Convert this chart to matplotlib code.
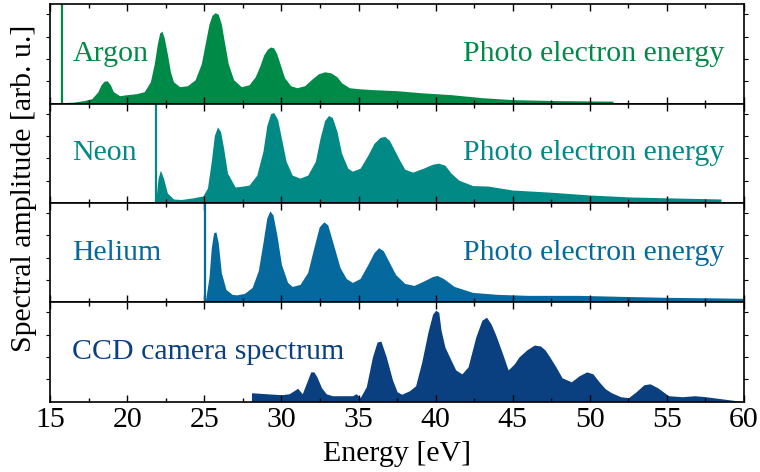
import numpy as np
import matplotlib
matplotlib.use("Agg")
import matplotlib.pyplot as plt
from matplotlib.ticker import MultipleLocator

plt.rcParams['font.family'] = ['Liberation Serif', 'DejaVu Serif']
plt.rcParams['font.size'] = 21.5

# ---- data (energy in eV, amplitude as panel fraction) ----
argon_e = [15.8, 16.5, 17.2, 17.7, 18.1, 18.3, 18.5, 18.7, 18.9, 19.1, 19.5, 20.0, 20.6, 21.1,
           21.5, 21.75, 21.95, 22.1, 22.25, 22.4, 22.6, 22.8, 23.0, 23.4, 23.9, 24.4, 24.8,
           25.05, 25.3, 25.5, 25.7, 25.9, 26.1, 26.3, 26.55, 26.9, 27.4, 27.9, 28.3, 28.6,
           28.85, 29.1, 29.3, 29.5, 29.7, 29.95, 30.2, 30.6, 31.0, 31.5, 32.0, 32.4, 32.8,
           33.2, 33.6, 33.9, 34.4, 35.0, 36.0, 37.5, 39.0, 41.0, 43.0, 45.0, 48.0, 51.5]
argon_a = [0.01, 0.015, 0.03, 0.05, 0.12, 0.19, 0.225, 0.23, 0.19, 0.12, 0.08, 0.09, 0.10, 0.12,
           0.22, 0.40, 0.60, 0.71, 0.73, 0.66, 0.50, 0.32, 0.22, 0.17, 0.18, 0.24, 0.40,
           0.60, 0.80, 0.89, 0.915, 0.90, 0.80, 0.62, 0.40, 0.24, 0.17, 0.19, 0.27, 0.38,
           0.49, 0.55, 0.57, 0.56, 0.50, 0.38, 0.26, 0.18, 0.16, 0.18, 0.25, 0.30, 0.32,
           0.31, 0.27, 0.21, 0.16, 0.15, 0.14, 0.13, 0.11, 0.09, 0.06, 0.04, 0.03, 0.025]

neon_e = [21.85, 22.0, 22.15, 22.35, 22.6, 23.0, 23.5, 24.2, 24.9, 25.2, 25.45, 25.65, 25.85,
          26.05, 26.25, 26.5, 27.0, 27.5, 27.9, 28.4, 28.8, 29.05, 29.3, 29.5, 29.75, 30.0,
          30.3, 30.7, 31.2, 31.7, 32.2, 32.5, 32.8, 33.05, 33.3, 33.6, 33.9, 34.3, 34.6,
          35.1, 35.6, 36.0, 36.4, 36.7, 37.0, 37.3, 37.7, 38.0, 38.5, 39.2, 39.8, 40.2,
          40.6, 41.0, 41.5, 42.4, 43.4, 45.0, 47.3, 50.0, 52.7, 55.5, 58.5]
neon_a = [0.02, 0.25, 0.33, 0.25, 0.10, 0.04, 0.035, 0.05, 0.07, 0.15, 0.42, 0.68, 0.765,
          0.72, 0.55, 0.30, 0.16, 0.17, 0.18, 0.28, 0.52, 0.78, 0.90, 0.91, 0.84, 0.65,
          0.42, 0.28, 0.25, 0.28, 0.42, 0.65, 0.83, 0.88, 0.86, 0.72, 0.50, 0.35, 0.32,
          0.35, 0.48, 0.60, 0.66, 0.67, 0.63, 0.54, 0.42, 0.34, 0.31, 0.35, 0.39, 0.40,
          0.38, 0.30, 0.23, 0.175, 0.17, 0.13, 0.11, 0.08, 0.06, 0.05, 0.04]

helium_e = [25.05, 25.3, 25.45, 25.6, 25.75, 25.9, 26.1, 26.4, 26.8, 27.1, 27.6, 28.1, 28.5,
            28.8, 29.05, 29.25, 29.45, 29.7, 30.0, 30.4, 30.7, 31.2, 31.7, 32.1, 32.45, 32.75,
            33.0, 33.3, 33.8, 34.2, 34.6, 35.1, 35.6, 36.0, 36.3, 36.6, 36.9, 37.4, 38.0,
            38.6, 39.3, 39.8, 40.1, 40.5, 41.2, 42.4, 44.0, 46.0, 49.3, 52.0, 55.0, 58.0, 60.0]
helium_a = [0.0, 0.25, 0.55, 0.70, 0.71, 0.60, 0.30, 0.13, 0.08, 0.075, 0.09, 0.15, 0.32,
            0.60, 0.85, 0.92, 0.88, 0.68, 0.38, 0.20, 0.16, 0.18, 0.30, 0.55, 0.76, 0.81,
            0.78, 0.62, 0.35, 0.24, 0.20, 0.24, 0.38, 0.50, 0.55, 0.52, 0.43, 0.28, 0.19,
            0.17, 0.22, 0.26, 0.27, 0.24, 0.16, 0.10, 0.08, 0.07, 0.07, 0.06, 0.05, 0.045, 0.04]

ccd_e = [28.05, 28.06, 29.0, 30.0, 30.5, 31.05, 31.35, 31.7, 31.9, 32.1, 32.3, 32.6, 32.9, 33.3,
         34.6, 34.85, 35.1, 35.5, 35.9, 36.2, 36.45, 36.8, 37.2, 37.5, 37.8, 38.3, 38.7, 39.1,
         39.5, 39.8, 40.0, 40.2, 40.35, 40.6, 40.9, 41.3, 41.7, 42.1, 42.6, 43.0, 43.3, 43.6,
         43.9, 44.3, 44.7, 45.1, 45.4, 45.9, 46.4, 46.8, 47.1, 47.4, 47.8, 48.2, 48.8, 49.3,
         49.8, 50.2, 50.6, 51.0, 51.4, 52.0, 52.5, 53.0, 53.5, 53.9, 54.4, 55.1, 56.0, 56.8,
         57.5, 58.5, 60.0]
ccd_a = [0.0, 0.09, 0.08, 0.07, 0.08, 0.135, 0.08, 0.22, 0.30, 0.30, 0.25, 0.14, 0.08, 0.06,
         0.06, 0.08, 0.04, 0.15, 0.45, 0.60, 0.61, 0.45, 0.22, 0.10, 0.075, 0.11, 0.16, 0.40,
         0.70, 0.88, 0.92, 0.90, 0.72, 0.55, 0.45, 0.32, 0.28, 0.35, 0.65, 0.82, 0.85, 0.78,
         0.67, 0.50, 0.32, 0.38, 0.45, 0.52, 0.57, 0.56, 0.52, 0.45, 0.35, 0.24, 0.20, 0.26,
         0.30, 0.28, 0.20, 0.13, 0.09, 0.05, 0.04, 0.10, 0.17, 0.18, 0.14, 0.06, 0.05, 0.06,
         0.05, 0.03, 0.0]

panels = [
    ("Argon", argon_e, argon_a, 15.8, "#008a47", True),
    ("Neon", neon_e, neon_a, 21.85, "#008985", True),
    ("Helium", helium_e, helium_a, 25.05, "#06699e", True),
    ("CCD camera spectrum", ccd_e, ccd_a, None, "#0b4080", False),
]

fig, axes = plt.subplots(4, 1, sharex=True, figsize=(7.6, 4.72), dpi=100)
fig.subplots_adjust(left=0.066, right=0.979, top=0.991, bottom=0.149, hspace=0)

for ax, (name, e, a, edge, col, pe) in zip(axes, panels):
    ax.fill_between(e, 0, a, color=col, linewidth=0)
    if edge is not None:
        ax.axvline(edge, color=col, lw=1.6)
    ax.set_xlim(15, 60)
    ax.set_ylim(0, 1)
    ax.set_yticks([0.225, 0.45, 0.675, 0.9])
    ax.set_yticklabels([])
    ax.xaxis.set_major_locator(MultipleLocator(5))
    ax.xaxis.set_minor_locator(MultipleLocator(2.5))
    ax.tick_params(axis='x', which='both', direction='in', top=True, bottom=True)
    ax.tick_params(axis='x', which='major', length=5, width=1)
    ax.tick_params(axis='x', which='minor', length=3, width=1)
    ax.tick_params(axis='y', which='both', direction='out', left=True, right=True,
                   length=3, width=0.8)
    for s in ax.spines.values():
        s.set_linewidth(1.2)
    ax.text(0.032, 0.43, name, transform=ax.transAxes, color=col,
            ha='left', va='baseline')
    if pe:
        ax.text(0.971, 0.43, "Photo electron energy", transform=ax.transAxes,
                color=col, ha='right', va='baseline')

axes[-1].set_xlabel("Energy [eV]", labelpad=6)
fig.text(0.031, 0.60, "Spectral amplitude [arb. u.]", rotation=90,
         ha='center', va='center')

fig.savefig("out.png", dpi=100)
